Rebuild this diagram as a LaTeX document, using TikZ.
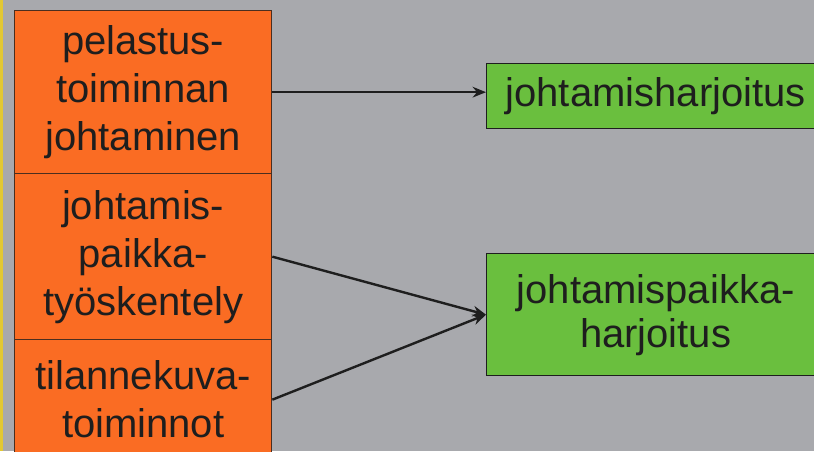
\documentclass[tikz,border=0pt]{standalone}
\usepackage{fontspec}
\setmainfont{Liberation Sans}
\usetikzlibrary{arrows.meta}

\definecolor{bggray}{RGB}{168,169,173}
\definecolor{boxorange}{RGB}{250,108,35}
\definecolor{boxgreen}{RGB}{106,191,62}
\definecolor{edgeyellow}{RGB}{226,200,52}
\definecolor{inkdark}{RGB}{30,30,30}

\tikzset{
  taskbox/.style={draw=inkdark!80!boxorange, line width=1pt, fill=boxorange, anchor=north west,
    inner sep=0pt, minimum width=192.75pt, text width=192.75pt, align=center,
    text=inkdark, font=\fontsize{30}{36}\selectfont},
  drillbox/.style={draw=inkdark, line width=1pt, fill=boxgreen, anchor=north west,
    inner sep=0pt, minimum width=253.5pt, text width=253.5pt, align=center,
    text=inkdark, font=\fontsize{30}{33}\selectfont},
  link/.style={draw=inkdark, line width=1.8pt, -{Stealth[length=10pt,width=8pt]}}
}

\begin{document}
\begin{tikzpicture}[x=0.75pt,y=0.75pt,yscale=-1,xscale=1]
\useasboundingbox (0,0) rectangle (814,451);
\clip (0,0) rectangle (814,451);

%Background
\fill[bggray] (0,0) rectangle (814,451);
%Left edge line
\fill[edgeyellow] (0,0) rectangle (2.5,451);

% Orange Nodes
\node[taskbox, minimum height=122.25pt] (johto) at (14,10) {pelastus-\\toiminnan\\johtaminen};
\node[taskbox, minimum height=124.5pt] (paikka) at (14,173) {johtamis-\\paikka-\\työskentely};
\node[taskbox, minimum height=90pt] (tilanne) at (14,339) {tilannekuva-\\toiminnot};

% Green Nodes
\node[drillbox, minimum height=48.75pt] (jharj) at (486,62.7) {johtamisharjoitus};
\node[drillbox, minimum height=91.5pt] (pharj) at (486,253) {johtamispaikka-\\harjoitus};

%Arrows
\draw[link] (johto.east) -- (johto.east -| jharj.west);
\draw[link] (paikka.east) -- (pharj.west);
\draw[link] (tilanne.east) -- (pharj.west);

\end{tikzpicture}
\end{document}
